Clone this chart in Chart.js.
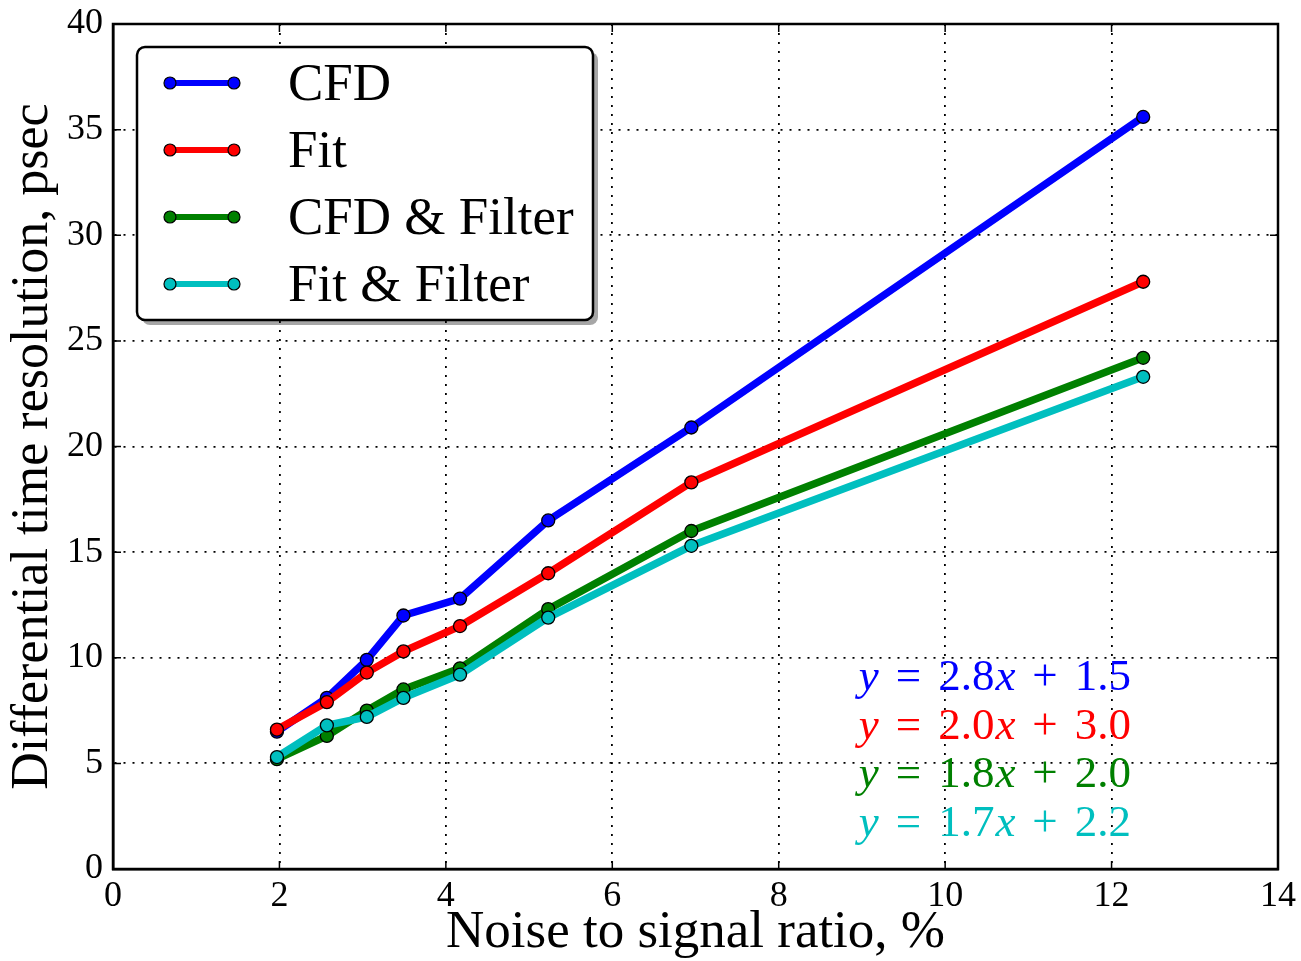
<!DOCTYPE html>
<html lang="en">
<head>
    <meta charset="UTF-8">
    <title>Differential time resolution vs noise</title>
    <script src="https://cdn.jsdelivr.net/npm/chart.js"></script>
    <style>
        html, body { margin: 0; padding: 0; background: #fff; }
        .container { width: 1301px; height: 961px; position: relative; }
    </style>
</head>
<body>
    <div class="container">
        <canvas id="resolutionChart"></canvas>
    </div>

    <script>
        // values
        const noiseRatio = [1.97, 2.57, 3.05, 3.49, 4.17, 5.23, 6.95, 12.38];
        const cfd        = [6.5, 8.1, 9.9, 12.0, 12.8, 16.5, 20.9, 35.6];
        const fit        = [6.6, 7.9, 9.3, 10.3, 11.5, 14.0, 18.3, 27.8];
        const cfdFilter  = [5.2, 6.3, 7.5, 8.5, 9.5, 12.3, 16.0, 24.2];
        const fitFilter  = [5.3, 6.8, 7.2, 8.1, 9.2, 11.9, 15.3, 23.3];

        const seriesNames = ['CFD', 'Fit', 'CFD & Filter', 'Fit & Filter'];
        const seriesColors = ['#0000ff', '#ff0000', '#008000', '#00bfbf'];
        const fitSlopes = ['2.8', '2.0', '1.8', '1.7'];
        const fitIntercepts = ['1.5', '3.0', '2.0', '2.2'];

        const serif = '"Liberation Serif", "DejaVu Serif", serif';

        function points(ys) {
            return noiseRatio.map((x, i) => ({ x: x, y: ys[i] }));
        }

        const allSeries = [cfd, fit, cfdFilter, fitFilter];
        const datasets = allSeries.map((ys, i) => ({
            label: seriesNames[i],
            data: points(ys),
            borderColor: seriesColors[i],
            backgroundColor: seriesColors[i],
            borderWidth: 7.5,
            pointRadius: 6.5,
            pointBorderColor: '#000',
            pointBorderWidth: 1.3,
            pointBackgroundColor: seriesColors[i],
            tension: 0,
            order: 4 - i // later series on top, like the original
        }));

        // frame, inside ticks, legend box and fit equations
        const extrasPlugin = {
            id: 'extras',
            afterDraw(chart) {
                const ctx = chart.ctx;
                const a = chart.chartArea;
                const xs = chart.scales.x, ys = chart.scales.y;
                ctx.save();

                // inside tick marks on all four sides
                ctx.strokeStyle = '#000';
                ctx.lineWidth = 1.5;
                ctx.beginPath();
                xs.ticks.forEach(t => {
                    const px = xs.getPixelForValue(t.value);
                    ctx.moveTo(px, a.bottom); ctx.lineTo(px, a.bottom - 8);
                    ctx.moveTo(px, a.top); ctx.lineTo(px, a.top + 8);
                });
                ys.ticks.forEach(t => {
                    const py = ys.getPixelForValue(t.value);
                    ctx.moveTo(a.left, py); ctx.lineTo(a.left + 8, py);
                    ctx.moveTo(a.right, py); ctx.lineTo(a.right - 8, py);
                });
                ctx.stroke();

                // full frame
                ctx.lineWidth = 2.5;
                ctx.strokeRect(a.left, a.top, a.right - a.left, a.bottom - a.top);

                // legend box with drop shadow
                const bx = 137, by = 47, bw = 456, bh = 273;
                ctx.fillStyle = 'rgba(0,0,0,0.35)';
                ctx.beginPath();
                ctx.roundRect(bx + 5, by + 5, bw, bh, 8);
                ctx.fill();
                ctx.fillStyle = '#fff';
                ctx.strokeStyle = '#000';
                ctx.lineWidth = 2.5;
                ctx.beginPath();
                ctx.roundRect(bx, by, bw, bh, 8);
                ctx.fill();
                ctx.stroke();

                chart.data.datasets.forEach((ds, i) => {
                    const cy = 83 + i * 67;
                    ctx.strokeStyle = ds.borderColor;
                    ctx.lineWidth = 6;
                    ctx.beginPath();
                    ctx.moveTo(170, cy); ctx.lineTo(234, cy);
                    ctx.stroke();
                    [170, 234].forEach(mx => {
                        ctx.beginPath();
                        ctx.arc(mx, cy, 6, 0, Math.PI * 2);
                        ctx.fillStyle = ds.pointBackgroundColor;
                        ctx.fill();
                        ctx.strokeStyle = '#000';
                        ctx.lineWidth = 1.2;
                        ctx.stroke();
                    });
                    ctx.fillStyle = '#000';
                    ctx.font = '53px ' + serif;
                    ctx.textAlign = 'left';
                    ctx.textBaseline = 'alphabetic';
                    ctx.fillText(ds.label, 288, cy + 17);
                });

                // fit equations, right aligned, with math-like spacing
                const rightEdge = 1131;
                const gap = 17;
                fitSlopes.forEach((s, i) => {
                    const baseline = 690 + i * 48.5;
                    const parts = [
                        ['y', 'italic'], ['=', 'normal'], [s, 'normal'],
                        ['x', 'italic'], ['+', 'normal'], [fitIntercepts[i], 'normal']
                    ];
                    const widths = parts.map(p => {
                        ctx.font = p[1] + ' 45px ' + serif;
                        return ctx.measureText(p[0]).width;
                    });
                    const gaps = [0, gap, gap, 1, gap, gap];
                    const total = widths.reduce((t, w) => t + w, 0) + gaps.reduce((t, g) => t + g, 0);
                    let x = rightEdge - total;
                    ctx.fillStyle = seriesColors[i];
                    ctx.textAlign = 'left';
                    parts.forEach((p, k) => {
                        x += gaps[k];
                        ctx.font = p[1] + ' 45px ' + serif;
                        ctx.fillText(p[0], x, baseline);
                        x += widths[k];
                    });
                });

                ctx.restore();
            }
        };

        function startChart() {
            const ctx = document.getElementById('resolutionChart').getContext('2d');
            new Chart(ctx, {
                type: 'line',
                data: { datasets: datasets },
                options: {
                    responsive: false,
                    animation: false,
                    layout: { padding: { left: 0, top: 24, right: 23, bottom: 0 } },
                    plugins: {
                        legend: { display: false },
                        tooltip: { enabled: false }
                    },
                    scales: {
                        x: {
                            type: 'linear',
                            min: 0, max: 14,
                            afterFit: s => { s.height = 92; s.paddingLeft = 0; s.paddingRight = 0; },
                            ticks: {
                                stepSize: 2, autoSkip: false, maxRotation: 0,
                                padding: 6, color: '#000',
                                font: { family: serif, size: 36 }
                            },
                            grid: {
                                color: '#000', lineWidth: 1.8,
                                drawTicks: false
                            },
                            border: { display: true, color: '#000', width: 2.5, dash: [2, 7] },
                            title: {
                                display: true,
                                text: 'Noise to signal ratio, %',
                                color: '#000',
                                font: { family: serif, size: 53 },
                                padding: { top: 0, bottom: -4 }
                            }
                        },
                        y: {
                            type: 'linear',
                            min: 0, max: 40,
                            afterFit: s => { s.width = 113; s.paddingTop = 0; s.paddingBottom = 0; },
                            ticks: {
                                stepSize: 5, autoSkip: false,
                                padding: 10, color: '#000',
                                font: { family: serif, size: 36 }
                            },
                            grid: {
                                color: '#000', lineWidth: 1.8,
                                drawTicks: false
                            },
                            border: { display: true, color: '#000', width: 2.5, dash: [2, 7] },
                            title: {
                                display: true,
                                text: 'Differential time resolution, psec',
                                color: '#000',
                                font: { family: serif, size: 52 },
                                padding: { top: 2, bottom: 0 }
                            }
                        }
                    }
                },
                plugins: [extrasPlugin]
            });
        }

        const cv = document.getElementById('resolutionChart');
        cv.width = 1301;
        cv.height = 961;
        startChart();
    </script>
</body>
</html>
